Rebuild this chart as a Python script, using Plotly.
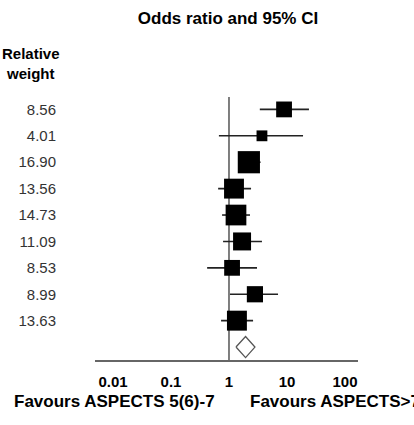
import plotly.graph_objects as go
import math

weights = [8.56, 4.01, 16.90, 13.56, 14.73, 11.09, 8.53, 8.99, 13.63]
weight_labels = ["8.56", "4.01", "16.90", "13.56", "14.73", "11.09", "8.53", "8.99", "13.63"]
odds_ratio = [8.9, 3.7, 2.2, 1.22, 1.32, 1.68, 1.13, 2.8, 1.37]
ci_low = [3.4, 0.67, 1.45, 0.65, 0.76, 0.79, 0.42, 1.04, 0.73]
ci_high = [23.9, 18.9, 3.5, 2.4, 2.3, 3.7, 3.04, 7.0, 2.6]
pooled_or = 1.93
pooled_low = 1.32
pooled_high = 2.8
tick_vals = [0.01, 0.1, 1, 10, 100]
tick_text = ["0.01", "0.1", "1", "10", "100"]

rows = list(range(len(weights)))
pooled_row = len(weights)

FONT = "Liberation Sans, Arial, sans-serif"

fig = go.Figure()

# CI lines
cx, cy = [], []
for r, lo, hi in zip(rows, ci_low, ci_high):
    cx += [lo, hi, None]
    cy += [r, r, None]
fig.add_trace(go.Scatter(x=cx, y=cy, mode="lines",
                         line=dict(color="#222222", width=1.6),
                         hoverinfo="skip", showlegend=False))

# squares
fig.add_trace(go.Scatter(x=odds_ratio, y=rows, mode="markers",
                         marker=dict(symbol="square", color="black", opacity=1,
                                     size=[5.4 * math.sqrt(w) for w in weights],
                                     line=dict(width=0)),
                         showlegend=False))

# pooled diamond
h = 0.4
fig.add_trace(go.Scatter(x=[pooled_low, pooled_or, pooled_high, pooled_or, pooled_low],
                         y=[pooled_row, pooled_row - h, pooled_row, pooled_row + h, pooled_row],
                         mode="lines", fill="toself", fillcolor="white",
                         line=dict(color="#555555", width=1.3),
                         showlegend=False))

# vertical line at OR = 1
fig.add_shape(type="line", xref="x", yref="paper", x0=1, x1=1, y0=0, y1=1,
              line=dict(color="#555555", width=1.5), layer="below")

fig.update_xaxes(type="log", range=[-2.31, 2.224],
                 tickvals=tick_vals, ticktext=tick_text,
                 showline=True, linecolor="#666666", linewidth=1.5,
                 showgrid=False, zeroline=False, ticks="",
                 ticklabelstandoff=7,
                 tickfont=dict(family=FONT, size=15, color="black", weight="bold"))
fig.update_yaxes(range=[9.49, -0.47], tickvals=rows, ticktext=weight_labels,
                 showgrid=False, zeroline=False, showline=False, ticks="",
                 ticklabelstandoff=38,
                 tickfont=dict(family=FONT, size=15, color="#333333"))

fig.add_annotation(text="<b>Relative<br>weight</b>", xref="paper", yref="paper",
                   x=(31 - 95) / 263, y=(360 - 64) / 263, xanchor="center", yanchor="middle",
                   showarrow=False, align="center",
                   font=dict(family=FONT, size=15, color="black"))
fig.add_annotation(text="<b>Favours ASPECTS 5(6)-7</b>", xref="paper", yref="paper",
                   x=(12 - 95) / 263, y=(360 - 401) / 263, xanchor="left", yanchor="middle",
                   showarrow=False, font=dict(family=FONT, size=17, color="black"))
fig.add_annotation(text="<b>Favours ASPECTS>7</b>", xref="paper", yref="paper",
                   x=(248 - 95) / 263, y=(360 - 401) / 263, xanchor="left", yanchor="middle",
                   showarrow=False, font=dict(family=FONT, size=17, color="black"))

fig.update_layout(
    width=414, height=425,
    margin=dict(l=95, r=56, t=97, b=65),
    paper_bgcolor="white", plot_bgcolor="white",
    title=dict(text="<b>Odds ratio and 95% CI</b>", x=228 / 414, xanchor="center",
               y=1 - 18 / 425, yanchor="middle",
               font=dict(family=FONT, size=17, color="black")),
    showlegend=False,
)

fig.write_html("out.html", config={"displayModeBar": False},
               post_script="document.body.style.margin='0px';")
